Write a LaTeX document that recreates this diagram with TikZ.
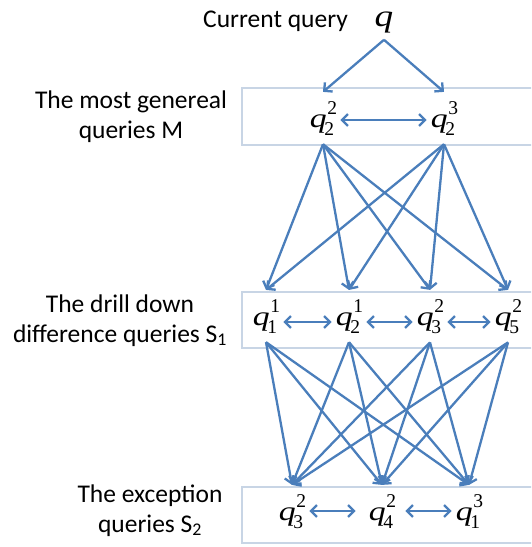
\documentclass[tikz,border=0pt]{standalone}
\usepackage{graphicx}
\usepackage{fontspec}
\setmainfont{Carlito}
\newfontfamily\tnr{Liberation Serif}
\usetikzlibrary{arrows.meta}
\definecolor{arrowblue}{RGB}{74,126,187}
\definecolor{boxgray}{RGB}{200,213,229}
\newcommand\qfont{\tnr\itshape\fontsize{27}{27}\selectfont}
\newcommand\dfont{\tnr\upshape\fontsize{19.5}{19.5}\selectfont}
\newcommand\qq[2]{\scalebox{1.25}[1]{\qfont q}\kern-2.5pt\rlap{\kern3pt\raisebox{13pt}{\dfont #1}}\raisebox{-8pt}{\dfont #2}\kern2pt}
\begin{document}
\begin{tikzpicture}[x=1pt,y=-1pt,
  qnode/.style={inner xsep=4pt, inner ysep=9pt, anchor=base},
  lbl/.style={font=\fontsize{25.5}{29.5}\selectfont, align=center, inner sep=0pt},
  boxline/.style={draw=boxgray, line width=2pt},
  arr/.style={draw=arrowblue, line width=2.3pt, -{Straight Barb[length=6pt,width=12pt]}},
  darr/.style={draw=arrowblue, line width=2.3pt, {Straight Barb[length=6pt,width=12pt]}-{Straight Barb[length=6pt,width=12pt]}}]
\useasboundingbox (0,0) rectangle (531,547);
\clip (0,0) rectangle (531,547);
% layer boxes
\draw[boxline] (242,88) rectangle (545,145);
\draw[boxline] (242,292) rectangle (545,348);
\draw[boxline] (242,487) rectangle (545,543);
% labels
\node[lbl, anchor=base west] (cur) at (203,27) {Current query};
\node[lbl] (lM) at (131,116.5) {The most genereal\\queries M};
\node[lbl] (lS1) at (120,320.5) {The drill down\\difference queries S\textsubscript{1}};
\node[lbl] (lS2) at (150,510.5) {The exception\\queries S\textsubscript{2}};
% query nodes
\node[anchor=base, inner xsep=2pt, inner ysep=7pt] (q0) at (384,26) {\scalebox{1.2}[1]{\tnr\itshape\fontsize{31}{31}\selectfont q}};
\node[qnode] (m1) at (323,127) {\qq{2}{2}};
\node[qnode] (m2) at (444,127) {\qq{3}{2}};
\node[qnode] (s1) at (266,325) {\qq{1}{1}};
\node[qnode] (s2) at (349,325) {\qq{1}{2}};
\node[qnode] (s3) at (430,325) {\qq{2}{3}};
\node[qnode] (s4) at (508,325) {\qq{2}{5}};
\node[qnode] (t1) at (292,520) {\qq{2}{3}};
\node[qnode] (t2) at (382,520) {\qq{2}{4}};
\node[qnode] (t3) at (469,520) {\qq{3}{1}};
% connectors
\draw[arr] (q0.south) -- (m1.north);
\draw[arr] (q0.south) -- (m2.north);
\draw[darr] ([yshift=7pt]m1.base east) -- ([yshift=7pt]m2.base west);
\foreach \a in {m1,m2}
  \foreach \b in {s1,s2,s3,s4}
    \draw[arr] (\a.south) -- (\b.north);
\draw[darr] ([yshift=3pt]s1.base east) -- ([yshift=3pt]s2.base west);
\draw[darr] ([yshift=3pt]s2.base east) -- ([yshift=3pt]s3.base west);
\draw[darr] ([yshift=3pt]s3.base east) -- ([yshift=3pt]s4.base west);
\foreach \a in {s1,s2,s3,s4}
  \foreach \b in {t1,t2,t3}
    \draw[arr] (\a.south) -- (\b.north);
\draw[darr, shorten >=9pt] ([yshift=9pt]t1.base east) -- ([yshift=9pt]t2.base west);
\draw[darr, shorten <=6pt] ([yshift=9pt]t2.base east) -- ([yshift=9pt]t3.base west);
\end{tikzpicture}
\end{document}
